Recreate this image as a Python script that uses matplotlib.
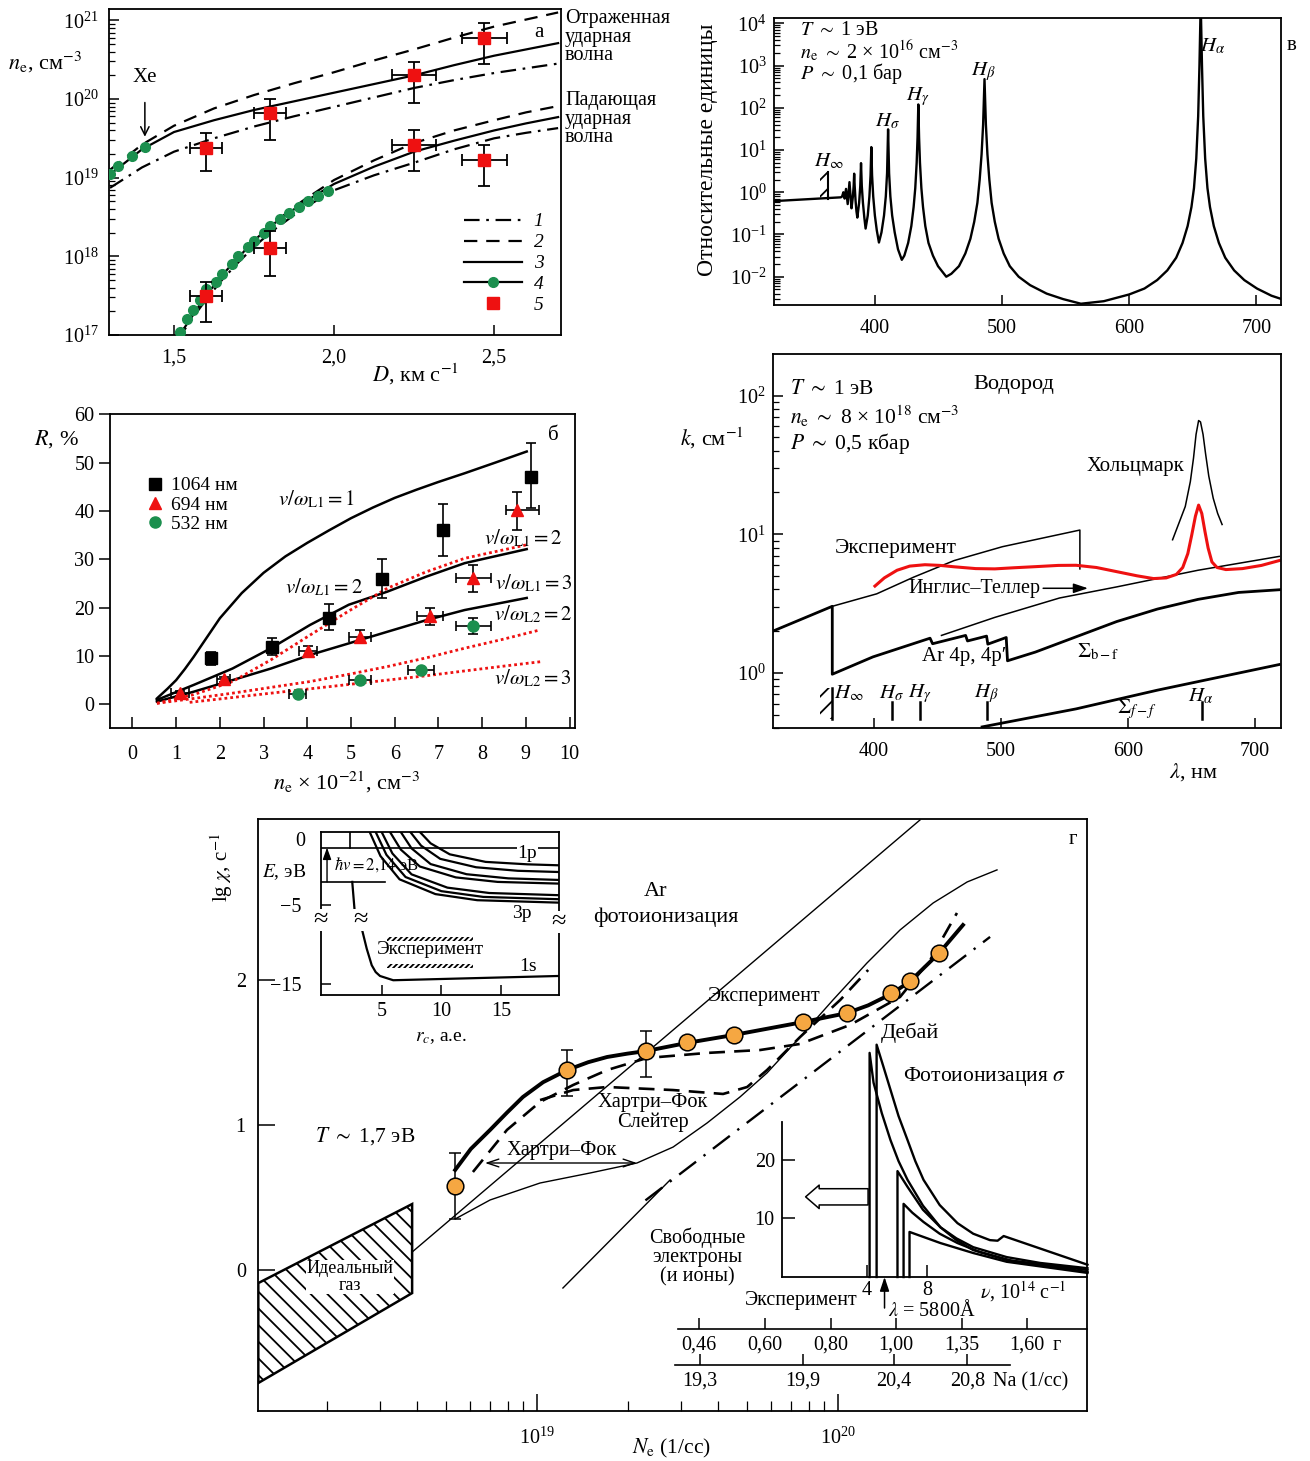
import numpy as np
import matplotlib
matplotlib.use('Agg')
import matplotlib.pyplot as plt
from matplotlib.lines import Line2D
from matplotlib.patches import Polygon, Rectangle
import matplotlib.ticker as mt

W, H = 1310, 1461
plt.rcParams.update({
    'font.family': ['Liberation Serif', 'DejaVu Serif'],
    'mathtext.fontset': 'stix',
    'font.size': 14,
    'axes.linewidth': 1.3,
    'xtick.direction': 'in', 'ytick.direction': 'in',
    'xtick.major.size': 7, 'ytick.major.size': 7,
    'xtick.minor.size': 4, 'ytick.minor.size': 4,
    'xtick.major.width': 1.1, 'ytick.major.width': 1.1,
    'xtick.minor.width': 0.9, 'ytick.minor.width': 0.9,
    'xtick.labelsize': 14.5, 'ytick.labelsize': 14.5,
    'xtick.major.pad': 10, 'ytick.major.pad': 7,
    'hatch.linewidth': 1.3,
})
GREEN = '#1b8f4e'
RED = '#ee1111'
ORANGE = '#f5a742'

# ------------------------------------------------------------------ data
# panel a : n_e (log10) vs D
a_D_refl = [1.30, 1.40, 1.50, 1.625, 1.75, 1.875, 2.00, 2.125, 2.25, 2.375, 2.50, 2.60, 2.70]
a_refl_1 = [18.87, 19.13, 19.33, 19.50, 19.65, 19.78, 19.90, 20.02, 20.14, 20.24, 20.33, 20.39, 20.45]
a_refl_2 = [19.10, 19.42, 19.66, 19.88, 20.05, 20.20, 20.34, 20.49, 20.63, 20.78, 20.92, 21.01, 21.10]
a_refl_3 = [19.04, 19.36, 19.58, 19.73, 19.86, 19.97, 20.08, 20.19, 20.30, 20.43, 20.55, 20.63, 20.71]
a_D_inc = [1.51, 1.55, 1.60, 1.65, 1.70, 1.75, 1.80, 1.90, 2.00, 2.125, 2.25, 2.375, 2.50, 2.60, 2.70]
a_inc_1 = [16.93, 17.17, 17.45, 17.70, 17.92, 18.12, 18.30, 18.60, 18.84, 19.03, 19.19, 19.36, 19.50, 19.57, 19.63]
a_inc_2 = [16.95, 17.20, 17.50, 17.76, 17.98, 18.20, 18.39, 18.70, 18.97, 19.22, 19.44, 19.60, 19.73, 19.83, 19.91]
a_inc_3 = [16.95, 17.20, 17.50, 17.76, 17.98, 18.20, 18.38, 18.67, 18.92, 19.14, 19.33, 19.47, 19.60, 19.69, 19.77]
a_dots_up_D = [1.30, 1.325, 1.369, 1.41]
a_dots_up_ne = [19.05, 19.15, 19.28, 19.39]
a_dots_lo_D = [1.52, 1.54, 1.56, 1.58, 1.60, 1.63, 1.65, 1.68, 1.70, 1.73, 1.75, 1.78, 1.80, 1.83,
               1.86, 1.89, 1.92, 1.95, 1.98]
a_dots_lo_ne = [17.04, 17.20, 17.32, 17.45, 17.58, 17.68, 17.78, 17.90, 18.00, 18.12, 18.20, 18.30,
                18.38, 18.47, 18.55, 18.63, 18.70, 18.77, 18.83]
a_sq_D = [1.60, 1.80, 2.25, 2.47, 2.25, 2.47, 1.80, 1.60]
a_sq_ne = [19.38, 19.82, 20.30, 20.78, 19.42, 19.23, 18.11, 17.50]
a_sq_lo = [19.08, 19.48, 19.95, 20.44, 19.08, 18.89, 17.75, 17.16]
a_sq_hi = [19.57, 20.00, 20.47, 20.97, 19.60, 19.42, 18.32, 17.68]
a_sq_dx = [0.05, 0.05, 0.07, 0.07, 0.07, 0.07, 0.05, 0.05]

# panel b : R (%) vs n_e
b_n = [0.56, 0.80, 1.00, 1.20, 1.40, 1.70, 2.00, 2.50, 3.00, 3.50, 4.00, 4.50, 5.00, 5.50, 6.00,
       6.50, 7.00, 7.60, 8.30, 9.02]
b_c1 = [1.2, 3.2, 5.0, 7.3, 9.8, 13.8, 17.8, 23.0, 27.2, 30.6, 33.4, 36.0, 38.5, 40.7, 42.7,
        44.4, 46.0, 47.8, 50.0, 52.3]
b_n2 = [0.56, 1.40, 2.29, 3.17, 4.06, 4.95, 5.83, 6.72, 7.60, 9.02]
b_c2 = [0.9, 4.0, 7.4, 11.6, 16.4, 20.6, 23.3, 26.4, 29.2, 32.1]
b_c3 = [0.55, 2.6, 5.0, 7.4, 10.2, 12.6, 15.0, 17.4, 19.5, 22.0]
b_d1_n = [0.56, 1.40, 2.29, 3.17, 4.06, 4.95, 5.83, 6.72, 7.60, 9.02]
b_d1 = [0.2, 2.0, 4.7, 9.2, 14.3, 19.3, 24.0, 27.4, 30.2, 33.0]
b_d2_n = [0.56, 1.40, 2.29, 3.17, 4.06, 4.95, 5.83, 6.72, 7.60, 8.50, 9.33]
b_d2 = [0.2, 1.2, 2.3, 3.5, 4.7, 6.2, 7.8, 9.6, 11.6, 13.5, 15.4]
b_d3_n = [1.31, 2.29, 3.17, 4.06, 4.95, 5.83, 6.72, 7.60, 8.50, 9.33]
b_d3 = [0.4, 1.4, 2.3, 3.2, 4.1, 5.0, 5.9, 6.9, 7.9, 8.8]
b_sq_n = [1.80, 3.20, 4.50, 5.70, 7.10, 9.11]
b_sq_R = [9.5, 11.9, 17.9, 26.0, 36.0, 47.0]
b_sq_lo = [1.4, 1.7, 2.5, 4.1, 5.3, 6.4]
b_sq_hi = [1.4, 1.9, 2.8, 4.0, 5.4, 7.0]
b_tr_n = [1.09, 2.09, 4.02, 5.21, 6.81, 7.80, 8.80]
b_tr_R = [2.3, 5.2, 11.0, 14.0, 18.3, 26.2, 40.2]
b_tr_lo = [0.5, 0.5, 1.0, 1.0, 1.9, 2.9, 4.2]
b_tr_hi = [0.5, 0.5, 1.1, 1.4, 1.7, 2.6, 3.8]
b_tr_dxl = [0.2, 0.15, 0.2, 0.25, 0.3, 0.4, 0.25]
b_tr_dxr = [0.2, 0.15, 0.2, 0.25, 0.3, 0.4, 0.5]
b_ci_n = [3.78, 5.21, 6.61, 7.80]
b_ci_R = [2.1, 5.0, 7.1, 16.2]
b_ci_dx = [0.2, 0.25, 0.3, 0.4]
b_ci_dy = [0.0, 0.0, 0.0, 1.7]

# panel v : Balmer spectrum, log10 of relative intensity
v_nm = [320, 373, 374.0, 375.0, 376.0, 377.1, 378.4, 379.8, 381.4, 382.5, 383.1, 383.5, 383.9,
        384.6, 385.3, 386.0, 387.4, 388.3, 388.9, 389.5, 390.4, 391.5, 392.5, 394.2, 395.5, 396.4,
        397.0, 397.6, 398.5, 399.8, 401.3, 403.0, 405.0, 407.0, 408.4, 409.4, 410.2, 411.0, 412.0,
        413.4, 415.4, 418.0, 421.0, 423.0, 426.0, 428.5, 430.3, 431.6, 432.7, 433.4, 434.0, 434.6,
        435.3, 436.4, 437.7, 439.5, 442.0, 445.5, 449.5, 456.0, 460.0, 466.0, 471.0, 475.0, 478.0,
        480.5, 482.3, 483.8, 485.0, 486.1, 487.2, 488.4, 489.9, 491.7, 494.2, 497.2, 501.2, 506.0,
        513.0, 522.0, 535.0, 548.0, 562.0, 580.0, 600.0, 612.0, 622.0, 630.0, 637.0, 642.0, 646.0,
        649.0, 651.0, 652.8, 654.3, 655.3, 656.3, 657.3, 658.3, 659.8, 661.6, 663.6, 666.6, 670.6,
        675.6, 682.6, 690.6, 700.6, 712.0, 719.0]
v_log = [-0.21, -0.12, -0.10, 0.00, -0.15, 0.08, -0.28, 0.24, -0.38, -0.10, 0.15, 0.44, 0.15,
         -0.20, -0.45, -0.60, -0.25, 0.15, 0.69, 0.15, -0.25, -0.60, -0.86, -0.55, -0.10, 0.40,
         1.07, 0.40, -0.10, -0.55, -0.90, -1.19, -0.95, -0.55, -0.10, 0.45, 1.49, 0.45, -0.10,
         -0.55, -0.95, -1.35, -1.60, -1.50, -1.20, -0.80, -0.35, 0.10, 0.70, 1.30, 2.08, 1.30,
         0.70, 0.10, -0.35, -0.80, -1.20, -1.50, -1.75, -2.00, -1.93, -1.75, -1.45, -1.10, -0.70,
         -0.25, 0.30, 0.90, 1.60, 2.68, 1.60, 0.90, 0.30, -0.25, -0.70, -1.10, -1.45, -1.75,
         -2.00, -2.20, -2.40, -2.53, -2.64, -2.58, -2.42, -2.28, -2.08, -1.85, -1.55, -1.20, -0.80,
         -0.35, 0.10, 0.80, 1.80, 3.00, 4.50, 3.00, 1.80, 0.80, 0.10, -0.35, -0.80, -1.20,
         -1.55, -1.85, -2.08, -2.28, -2.45, -2.52]

# panel k : absorption coefficient, log10 k
k_env_nm = [320, 367, 367, 399, 444, 446, 472, 473.5, 488.5, 489.5, 504, 505, 527, 559, 591, 623, 655, 687, 720]
k_env = [0.30, 0.48, -0.01, 0.115, 0.25, 0.21, 0.27, 0.23, 0.265, 0.207, 0.255, 0.087, 0.15, 0.26, 0.37, 0.46, 0.53, 0.58, 0.60]
k_sum_nm = [367, 402, 431, 463, 501, 562, 562]
k_sum = [0.48, 0.57, 0.69, 0.81, 0.91, 1.03, 0.75]
k_it_nm = [453, 495, 546, 591, 655, 719]
k_it = [0.27, 0.40, 0.54, 0.62, 0.74, 0.84]
k_ff_nm = [485, 559, 623, 719]
k_ff = [-0.39, -0.26, -0.125, 0.06]
k_exp_nm = [400.6, 408, 418, 428, 440, 452, 463, 480, 495, 510, 527, 545, 559, 575, 591, 607, 620,
            630, 638, 643, 647, 650, 653, 655.5, 658, 660.5, 663, 666, 670, 677, 690, 705, 719]
k_exp = [0.626, 0.685, 0.74, 0.77, 0.78, 0.775, 0.765, 0.752, 0.750, 0.758, 0.766, 0.775, 0.776,
         0.760, 0.73, 0.70, 0.68, 0.685, 0.71, 0.76, 0.86, 0.99, 1.13, 1.21, 1.15, 1.02, 0.90, 0.80,
         0.76, 0.745, 0.752, 0.775, 0.81]
k_hz_nm = [635, 640, 645, 649, 651.5, 653.5, 655.5, 657, 659, 661, 663.5, 667, 670.5, 674]
k_hz = [0.96, 1.08, 1.20, 1.38, 1.55, 1.72, 1.82, 1.81, 1.72, 1.58, 1.42, 1.26, 1.15, 1.07]
k_lines_nm = [413.7, 436.4, 488.5, 657.8]

# panel g : lg chi vs log10 Ne
g_exp_X = [18.728, 19.100, 19.362, 19.498, 19.654, 19.884, 20.030, 20.176, 20.239, 20.336]
g_exp_Y = [0.579, 1.379, 1.510, 1.572, 1.621, 1.710, 1.772, 1.910, 1.993, 2.186]
g_err_lo = [0.352, 1.200, 1.331]
g_err_hi = [0.807, 1.517, 1.648]
g_thick_X = [18.728, 18.78, 18.844, 18.90, 18.953, 19.02, 19.100, 19.17, 19.233, 19.30, 19.362,
             19.498, 19.654, 19.884, 20.030, 20.10, 20.176, 20.239, 20.336, 20.415]
g_thick_Y = [0.690, 0.835, 0.966, 1.085, 1.193, 1.295, 1.379, 1.433, 1.469, 1.492, 1.510,
             1.566, 1.621, 1.710, 1.772, 1.825, 1.903, 1.990, 2.186, 2.379]
g_hfs_X = [18.787, 18.900, 19.010, 19.120, 19.233, 19.365, 19.565, 19.741, 19.874, 20.040, 20.206, 20.306, 20.395]
g_hfs_Y = [0.676, 0.966, 1.159, 1.276, 1.379, 1.462, 1.497, 1.517, 1.559, 1.690, 1.883, 2.138, 2.462]
g_sl_X = [19.010, 19.120, 19.233, 19.452, 19.618, 19.698, 19.764, 19.874, 20.007, 20.100]
g_sl_Y = [1.172, 1.241, 1.262, 1.241, 1.214, 1.262, 1.379, 1.607, 1.862, 2.069]
g_hf_X = [18.728, 18.844, 19.010, 19.176, 19.332, 19.452, 19.565, 19.674, 19.764, 19.874, 19.983, 20.096, 20.206, 20.316, 20.429, 20.528]
g_hf_Y = [0.352, 0.483, 0.600, 0.669, 0.738, 0.848, 1.014, 1.193, 1.359, 1.607, 1.862, 2.117, 2.345, 2.531, 2.676, 2.759]
g_ideal_X = [18.585, 20.272]
g_ideal_Y = [0.124, 3.103]
g_free_X = [19.086, 19.442]
g_free_Y = [-0.124, 0.621]
g_deb_X = [19.36, 20.505]
g_deb_Y = [0.48, 2.297]
g_gas_X = [18.074, 18.585, 18.585, 18.074]
g_gas_Y = [-0.090, 0.455, -0.159, -0.779]
g_scale_g_X = [19.538, 19.757, 19.977, 20.193, 20.412, 20.628]
g_scale_g_lab = ['0,46', '0,60', '0,80', '1,00', '1,35', '1,60']
g_scale_na_X = [19.542, 19.884, 20.186, 20.429]
g_scale_na_lab = ['19,3', '19,9', '20,4', '20,8']

# inset: photoionization cross-section
sA_nu = [4.2, 4.2, 4.46, 5.0, 5.57, 6.1, 6.69, 7.7, 8.85, 9.9, 11.0, 13.2, 15.4, 18.5]
sA = [0, 38.3, 33.2, 28.0, 23.4, 19.8, 16.6, 12.2, 8.5, 6.6, 5.1, 3.4, 2.4, 1.5]
sB_nu = [4.66, 4.66, 5.1, 5.57, 6.1, 6.69, 7.2, 7.74, 8.8, 9.97, 11.0, 12.1, 12.6, 13.0, 18.5]
sB = [0, 39.7, 36.0, 32.0, 27.5, 23.4, 19.8, 16.6, 12.3, 9.2, 7.4, 6.3, 6.2, 7.0, 2.1]
sC_nu = [6.03, 6.03, 6.69, 7.7, 8.85, 9.9, 11.0, 13.5, 18.5]
sC = [0, 18.1, 15.4, 11.5, 8.5, 6.3, 4.6, 2.8, 1.2]
sD_nu = [6.43, 6.43, 7.0, 7.74, 8.8, 9.97, 11.5, 13.2, 18.5]
sD = [0, 12.5, 11.0, 9.4, 7.4, 5.8, 4.2, 2.9, 0.85]
sE_nu = [6.82, 6.82, 8.85, 11.0, 13.2, 18.5]
sE = [0, 7.7, 5.8, 4.1, 2.6, 0.7]

# inset: energy levels vs r_c
e_1s_a_r = [2.54, 2.77]
e_1s_a_E = [-3.11, -5.84]
e_1s_b_r = [3.27, 3.75, 4.17, 4.50, 4.86, 5.97, 19.84]
e_1s_b_E = [-6.67, -8.58, -9.94, -10.50, -10.82, -11.17, -10.82]
e_lv_r = [[8.2, 9.1, 10.7, 13.7, 17.2, 19.84],
          [7.4, 8.3, 9.9, 12.9, 16.4, 19.84],
          [6.6, 7.5, 9.1, 12.1, 15.6, 19.84],
          [5.7, 6.6, 8.2, 11.2, 14.7, 19.84],
          [5.0, 5.9, 7.5, 10.5, 14.0, 19.84],
          [4.5, 5.4, 7.0, 10.0, 13.5, 19.84],
          [4.0, 4.9, 6.5, 9.5, 13.0, 19.84]]
e_lv_E = [[0.98, 0.05, -0.85, -1.47, -1.67, -1.75],
          [0.98, -0.14, -1.22, -1.91, -2.20, -2.30],
          [0.98, -0.36, -1.65, -2.48, -2.82, -2.95],
          [0.98, -0.46, -1.85, -2.74, -3.11, -3.25],
          [0.98, -0.78, -2.49, -3.58, -4.02, -4.20],
          [0.98, -0.89, -2.71, -3.87, -4.34, -4.53],
          [0.98, -0.99, -2.90, -4.11, -4.61, -4.81]]


def pw(v):
    return 10.0 ** np.asarray(v, dtype=float)


fig = plt.figure(figsize=(W / 100, H / 100), dpi=100)


def px_axes(l, t, r, b, **kw):
    return fig.add_axes([l / W, 1 - b / H, (r - l) / W, (b - t) / H], **kw)


def ftext(x, y, s, **kw):
    kw.setdefault('ha', 'center')
    kw.setdefault('va', 'center')
    return fig.text(x / W, 1 - y / H, s, **kw)


def log_y(ax):
    ax.yaxis.set_major_locator(mt.LogLocator(base=10, numticks=20))
    ax.yaxis.set_minor_locator(mt.LogLocator(base=10, subs=np.arange(2, 10), numticks=20))
    ax.yaxis.set_major_formatter(mt.LogFormatterMathtext())
    ax.yaxis.set_minor_formatter(mt.NullFormatter())


DDa = (7, 3, 1.2, 3)
DAa = (6, 4)
LAB = 16

# ================================================================ panel a
axA = px_axes(108.7, 9.3, 561, 335)
axA.set_yscale('log')
axA.set_xlim(1.296, 2.709)
axA.set_ylim(1e17, 10 ** 21.14)
lk = dict(color='k', lw=1.6)
axA.plot(a_D_refl, pw(a_refl_1), dashes=DDa, **lk)
axA.plot(a_D_refl, pw(a_refl_2), dashes=DAa, **lk)
axA.plot(a_D_refl, pw(a_refl_3), **lk)
axA.plot(a_D_inc, pw(a_inc_1), dashes=DDa, **lk)
axA.plot(a_D_inc, pw(a_inc_2), dashes=DAa, **lk)
axA.plot(a_D_inc, pw(a_inc_3), **lk)
axA.plot(a_dots_up_D, pw(a_dots_up_ne), 'o', color=GREEN, ms=7, zorder=4)
axA.plot(a_dots_lo_D, pw(a_dots_lo_ne), 'o', color=GREEN, ms=7, zorder=4)
ya = pw(a_sq_ne)
axA.errorbar(a_sq_D, ya, yerr=[ya - pw(a_sq_lo), pw(a_sq_hi) - ya], xerr=a_sq_dx, fmt='none',
             ecolor='k', elinewidth=1.3, capsize=4, capthick=1.3, zorder=5)
axA.plot(a_sq_D, ya, 's', color=RED, ms=8.5, zorder=6)
log_y(axA)
axA.set_xticks([1.5, 2.0, 2.5])
axA.set_xticklabels(['1,5', '2,0', '2,5'])
axA.tick_params(which='both', top=False, right=False)
hA = [Line2D([], [], dashes=DDa, **lk), Line2D([], [], dashes=DAa, **lk), Line2D([], [], **lk),
      Line2D([], [], marker='o', mfc=GREEN, mec=GREEN, ms=7, **lk),
      Line2D([], [], ls='none', marker='s', color=RED, ms=8.5)]
axA.legend(hA, ['1', '2', '3', '4', '5'], loc='upper left', bbox_to_anchor=(0.785, 0.375),
           frameon=False, handlelength=3.0, handletextpad=0.6, labelspacing=0.17,
           borderpad=0, borderaxespad=0, prop={'style': 'italic', 'size': 14}, numpoints=1)
axA.annotate('Xe', xy=(1.409, 10 ** 19.52), xytext=(1.409, 10 ** 20.27), ha='center', va='center',
             fontsize=15, arrowprops=dict(arrowstyle='->', lw=1.1, color='k', shrinkA=9, shrinkB=0))
axA.text(2.64, 10 ** 20.84, 'а', fontsize=15, ha='center', va='center')
axA.text(1.009, 1.0, 'Отраженная\nударная\nволна', transform=axA.transAxes, ha='left', va='top',
         fontsize=14.5, linespacing=0.96)
axA.text(1.009, 0.748, 'Падающая\nударная\nволна', transform=axA.transAxes, ha='left', va='top',
         fontsize=14.5, linespacing=0.96)
ftext(8, 62, r'$n_{\rm e}$, см$^{-3}$', ha='left', fontsize=LAB)
ftext(415, 374, r'$D$, км с$^{-1}$', fontsize=LAB)

# ================================================================ panel b
axB = px_axes(109.7, 414, 574.8, 728.3)
axB.set_xlim(-0.52, 10.12)
axB.set_ylim(-4.97, 60.06)
lb = dict(color='k', lw=1.8)
axB.plot(b_n, b_c1, **lb)
axB.plot(b_n2, b_c2, **lb)
axB.plot(b_n2, b_c3, **lb)
ld = dict(color=RED, lw=2.0, ls=(0, (1, 1.1)))
axB.plot(b_d1_n, b_d1, **ld)
axB.plot(b_d2_n, b_d2, **ld)
axB.plot(b_d3_n, b_d3, **ld)
ek = dict(fmt='none', ecolor='k', elinewidth=1.2, capsize=3.5, capthick=1.2, zorder=4)
axB.errorbar(b_sq_n, b_sq_R, yerr=[b_sq_lo, b_sq_hi], **ek)
axB.errorbar(b_tr_n, b_tr_R, yerr=[b_tr_lo, b_tr_hi], xerr=[b_tr_dxl, b_tr_dxr], **ek)
axB.errorbar(b_ci_n, b_ci_R, yerr=b_ci_dy, xerr=b_ci_dx, **ek)
axB.plot(b_sq_n, b_sq_R, 's', color='k', ms=8.5, zorder=5)
axB.plot(b_tr_n, b_tr_R, '^', color=RED, ms=8.5, zorder=5)
axB.plot(b_ci_n, b_ci_R, 'o', color=GREEN, ms=8, zorder=5)
axB.set_xticks(range(0, 11))
axB.set_yticks(range(0, 61, 10))
axB.tick_params(axis='y', direction='out', length=8, pad=3)
axB.tick_params(axis='x', direction='in', length=8, pad=12)
axB.tick_params(top=False, right=False)
hB = [Line2D([], [], ls='none', marker='s', color='k', ms=8.5),
      Line2D([], [], ls='none', marker='^', color=RED, ms=8.5),
      Line2D([], [], ls='none', marker='o', color=GREEN, ms=8)]
axB.legend(hB, ['1064 нм', '694 нм', '532 нм'], loc='upper left', bbox_to_anchor=(0.076, 0.80),
           frameon=False, handlelength=1.0, handletextpad=0.35, labelspacing=0.08,
           borderpad=0, borderaxespad=0, fontsize=14)
tb = dict(fontsize=15, ha='center', va='center')
axB.text(4.22, 42.3, r'$v/\omega_{\rm L1} = 1$', **tb)
axB.text(4.38, 24.1, r'$v/\omega_{L1} = 2$', **tb)
axB.text(8.95, 34.4, r'$v/\omega_{\rm L1} = 2$', **tb)
axB.text(9.18, 24.9, r'$v/\omega_{\rm L1} = 3$', **tb)
axB.text(9.18, 18.5, r'$v/\omega_{\rm L2} = 2$', **tb)
axB.text(9.16, 5.4, r'$v/\omega_{\rm L2} = 3$', **tb)
axB.text(9.62, 55.7, 'б', fontsize=15, ha='center', va='center')
ftext(34, 439, r'$R$, %', ha='left', fontsize=LAB)
ftext(347, 782, r'$n_{\rm e}$ × 10$^{-21}$, см$^{-3}$', fontsize=LAB)

# ================================================================ panel v
axV = px_axes(773.5, 18.3, 1281, 305)
axV.set_yscale('log')
axV.set_xlim(320, 719.5)
axV.set_ylim(10 ** -2.67, 10 ** 4.12)
axV.plot(v_nm, pw(v_log), color='k', lw=1.7)
axV.plot([363, 363], pw([-0.16, 0.48]), color='k', lw=1.5)
axV.add_patch(Rectangle((356.5, 10 ** -0.16), 6.5, 10 ** 0.48 - 10 ** -0.16, hatch='//',
                        fill=False, lw=0))
log_y(axV)
axV.set_xticks([400, 500, 600, 700])
axV.tick_params(which='both', top=False, right=False)
axV.tick_params(axis='y', pad=5)
tv = dict(fontsize=15, ha='center', va='center')
axV.text(363.4, 10 ** 0.72, r'$H_\infty$', **tv)
axV.text(409.6, 10 ** 1.67, r'$H_\sigma$', **tv)
axV.text(433.3, 10 ** 2.26, r'$H_\gamma$', **tv)
axV.text(485.6, 10 ** 2.85, r'$H_\beta$', **tv)
axV.text(666.0, 10 ** 3.45, r'$H_\alpha$', **tv)
axV.text(0.053, 0.958, r'$T$ $\sim$ 1 эВ', transform=axV.transAxes, fontsize=14.5, va='center')
axV.text(0.053, 0.886, r'$n_{\rm e}$ $\sim$ 2 × 10$^{16}$ см$^{-3}$', transform=axV.transAxes,
         fontsize=14.5, va='center')
axV.text(0.053, 0.806, r'$P$ $\sim$ 0,1 бар', transform=axV.transAxes, fontsize=14.5, va='center')
ftext(1292, 45, 'в', fontsize=15)
ftext(707, 150, 'Относительные единицы', rotation=90, fontsize=17)

# ================================================================ panel k
axK = px_axes(772.6, 354, 1280.5, 728.3)
axK.set_yscale('log')
axK.set_xlim(320, 720)
axK.set_ylim(10 ** -0.40, 10 ** 2.30)
axK.plot(k_env_nm, pw(k_env), color='k', lw=2.0)
axK.plot(k_sum_nm, pw(k_sum), color='k', lw=1.1)
axK.plot(k_it_nm, pw(k_it), color='k', lw=1.1)
axK.plot(k_ff_nm, pw(k_ff), color='k', lw=2.0)
axK.plot(k_hz_nm, pw(k_hz), color='k', lw=1.1)
axK.plot(k_exp_nm, pw(k_exp), color=RED, lw=2.2)
for xl in k_lines_nm:
    axK.plot([xl, xl], pw([-0.21, -0.33]), color='k', lw=1.8)
axK.plot([367, 367], pw([-0.11, -0.33]), color='k', lw=1.8)
axK.add_patch(Rectangle((357.5, 10 ** -0.33), 9.5, 10 ** -0.11 - 10 ** -0.33, hatch='//',
                        fill=False, lw=0))
log_y(axK)
axK.set_xticks([400, 500, 600, 700])
axK.tick_params(which='both', top=False, right=False)
axK.tick_params(axis='y', pad=5)
tk = dict(fontsize=15, ha='center', va='center')
axK.text(380, 10 ** -0.15, r'$H_\infty$', **tk)
axK.text(413.4, 10 ** -0.15, r'$H_\sigma$', **tk)
axK.text(435.8, 10 ** -0.15, r'$H_\gamma$', **tk)
axK.text(488.5, 10 ** -0.15, r'$H_\beta$', **tk)
axK.text(657.2, 10 ** -0.17, r'$H_\alpha$', **tk)
axK.text(576.4, 10 ** 0.15, r'$\Sigma_{\rm b-f}$', **tk)
axK.text(606.7, 10 ** -0.26, r'$\Sigma_{f-f}$', **tk)
axK.text(470.9, 10 ** 0.12, 'Ar 4p, 4p′', **tk)
axK.text(416.6, 10 ** 0.90, 'Эксперимент', fontsize=15.5, ha='center', va='center')
axK.text(510.2, 10 ** 2.08, 'Водород', fontsize=16, ha='center', va='center')
axK.text(606.0, 10 ** 1.49, 'Хольцмарк', fontsize=15, ha='center', va='center')
axK.annotate('Инглис–Теллер', xy=(568.4, 10 ** 0.61), xytext=(478.9, 10 ** 0.61), ha='center',
             va='center', fontsize=14.5,
             arrowprops=dict(arrowstyle='-|>,head_length=0.6,head_width=0.2', lw=1.1, color='k',
                             shrinkA=0, shrinkB=0))
axK.text(0.034, 0.905, r'$T$ $\sim$ 1 эВ', transform=axK.transAxes, fontsize=15.5, va='center')
axK.text(0.034, 0.835, r'$n_{\rm e}$ $\sim$ 8 × 10$^{18}$ см$^{-3}$', transform=axK.transAxes,
         fontsize=15.5, va='center')
axK.text(0.034, 0.762, r'$P$ $\sim$ 0,5 кбар', transform=axK.transAxes, fontsize=15.5, va='center')
ftext(680, 438, r'$k$, см$^{-1}$', ha='left', fontsize=LAB)
ftext(1193, 772, r'$\lambda$, нм', fontsize=LAB)

# ================================================================ panel g
axG = px_axes(258.3, 819, 1087.3, 1410.7)
axG.set_xscale('log')
XL = (10 ** 18.074, 10 ** 20.828)
axG.set_xlim(*XL)
axG.set_ylim(-0.970, 3.11)
axG.add_patch(Polygon(list(zip(pw(g_gas_X), g_gas_Y)), closed=True, fill=False, hatch='\\\\',
                      ec='k', lw=1.8))
axG.plot(pw(g_ideal_X), g_ideal_Y, color='k', lw=1.0)
axG.plot(pw(g_hf_X), g_hf_Y, color='k', lw=1.0)
axG.plot(pw(g_free_X), g_free_Y, color='k', lw=1.0)
axG.plot(pw(g_deb_X), g_deb_Y, color='k', lw=1.7, dashes=(9, 4, 1, 4))
axG.plot(pw(g_sl_X), g_sl_Y, color='k', lw=1.9, dashes=(6, 3.5))
axG.plot(pw(g_hfs_X), g_hfs_Y, color='k', lw=1.9, dashes=(6, 3.5))
axG.plot(pw(g_thick_X), g_thick_Y, color='k', lw=2.8)
ge = np.array(g_exp_Y[:3])
axG.errorbar(pw(g_exp_X[:3]), ge, yerr=[ge - np.array(g_err_lo), np.array(g_err_hi) - ge], fmt='none',
             ecolor='k', elinewidth=1.1, capsize=4.5, capthick=1.1, zorder=4)
axG.plot(pw(g_exp_X), g_exp_Y, 'o', mfc=ORANGE, mec='k', mew=1.1, ms=12, zorder=6)
axG.annotate('', xy=(10 ** 18.827, 0.738), xytext=(10 ** 19.332, 0.738),
             arrowprops=dict(arrowstyle='<->,head_length=0.6,head_width=0.2', lw=1.0, color='k',
                             shrinkA=0, shrinkB=0))
axG.xaxis.set_major_locator(mt.FixedLocator([1e19, 1e20]))
axG.xaxis.set_major_formatter(mt.LogFormatterMathtext())
axG.xaxis.set_minor_locator(mt.FixedLocator([m * 10.0 ** e for e in (18, 19) for m in range(2, 10)]))
axG.xaxis.set_minor_formatter(mt.NullFormatter())
axG.set_yticks([0, 1, 2])
axG.tick_params(which='both', top=False, right=False)
axG.tick_params(axis='x', which='major', length=12, pad=12)
axG.tick_params(axis='x', which='minor', length=7)
axG.tick_params(axis='y', length=12, pad=9)

ftext(656, 891, 'Ar', fontsize=16)
ftext(666, 917, 'фотоионизация', fontsize=16)
ftext(764, 997, 'Эксперимент', fontsize=14.3)
ftext(910, 1033, 'Дебай', fontsize=16)
ftext(984, 1077, r'Фотоионизация $\sigma$', fontsize=15.5)
ftext(653, 1103, 'Хартри–Фок', fontsize=14.7)
ftext(653, 1122, 'Слейтер', fontsize=14.7)
ftext(562, 1150, 'Хартри–Фок', fontsize=14.7)
ftext(365, 1136, r'$T$ $\sim$ 1,7 эВ', fontsize=15.5)
ftext(697, 1257, 'Свободные\nэлектроны\n(и ионы)', fontsize=14.5, linespacing=0.98)
ftext(350, 1277, 'Идеальный\nгаз', fontsize=13, linespacing=0.95,
      bbox=dict(fc='white', ec='none', pad=0.5))
ftext(1073, 840, 'г', fontsize=15)
ftext(801, 1301, 'Эксперимент', fontsize=14.3)
ftext(222, 868, r'lg $\chi$, с$^{-1}$', rotation=90, fontsize=15)
ftext(672, 1448, r'$N_{\rm e}$ (1/cc)', fontsize=15.5)

# ---- density scales under the curves
def scale_axis(ypix, x0pix, x1pix, ticks, labels, unit, unit_x):
    ax = px_axes(258.3, ypix, 1087.3, ypix + 0.01)
    ax.patch.set_visible(False)
    ax.set_xscale('log')
    ax.set_xlim(*XL)
    ax.set_yticks([])
    for s in ('top', 'left', 'right'):
        ax.spines[s].set_visible(False)
    conv = lambda p: 10 ** (19 + (p - 537) / 301)
    ax.spines['bottom'].set_bounds(conv(x0pix), conv(x1pix))
    ax.spines['bottom'].set_linewidth(1.2)
    ax.xaxis.set_major_locator(mt.FixedLocator(list(pw(ticks))))
    ax.xaxis.set_major_formatter(mt.FixedFormatter(labels))
    ax.xaxis.set_minor_locator(mt.NullLocator())
    ax.tick_params(axis='x', direction='in', length=8, pad=5, labelsize=14.5)
    ftext(unit_x, ypix + 17, unit, fontsize=14.5)
    return ax

scale_axis(1329, 678, 1087.3, g_scale_g_X, g_scale_g_lab, 'г', 1057)
scale_axis(1365, 675, 1010, g_scale_na_X, g_scale_na_lab, 'Na (1/cc)', 1031)

# ---- photoionization inset
axS = px_axes(781.7, 1040, 1087.3, 1277)
axS.patch.set_visible(False)
axS.set_xlim(-1.57, 18.49)
axS.set_ylim(0, 40.5)
for s in ('top', 'right'):
    axS.spines[s].set_visible(False)
axS.spines['left'].set_bounds(0, 26.5)
for nu, sg in ((sA_nu, sA), (sB_nu, sB), (sC_nu, sC), (sD_nu, sD), (sE_nu, sE)):
    axS.plot(nu, sg, color='k', lw=1.7, clip_on=False)
axS.set_xticks([4, 8])
axS.set_yticks([10, 20])
axS.tick_params(direction='in', length=9, labelsize=14.5)
axS.tick_params(axis='x', pad=3)
axS.tick_params(axis='y', pad=5)
axS.annotate('', xy=(0.0, 13.7), xytext=(4.1, 13.7),
             arrowprops=dict(arrowstyle='simple,head_length=0.75,head_width=1.3,tail_width=0.9',
                             mutation_scale=13, fc='white', ec='k', lw=1.1, shrinkA=0, shrinkB=0))
axS.annotate('', xy=(5.18, 0.0), xytext=(5.18, -5.3), annotation_clip=False,
             arrowprops=dict(arrowstyle='-|>,head_length=0.6,head_width=0.2', lw=1.1, color='k',
                             shrinkA=0, shrinkB=0))
ftext(932, 1311, r'$\lambda$ = 5800Å', fontsize=14.5)
ftext(1023, 1292, r'$\nu$, 10$^{14}$ с$^{-1}$', fontsize=14.5)

# ---- energy-level inset
axI = px_axes(320.7, 832, 559, 995)
axI.set_facecolor('white')
axI.set_xlim(-0.10, 19.84)
axI.set_ylim(-12.38, 0.98)
ei = dict(color='k', lw=1.6)
axI.plot([-0.10, 19.84], [-0.30, -0.30], color='k', lw=1.2)
axI.plot([-0.10, 5.28], [-3.11, -3.11], color='k', lw=1.2)
axI.plot([2.35, 2.35], [0.98, -0.30], color='k', lw=1.2)
axI.plot(e_1s_a_r, e_1s_a_E, **ei)
axI.plot(e_1s_b_r, e_1s_b_E, **ei)
for rr, ee in zip(e_lv_r, e_lv_E):
    axI.plot(rr, ee, **ei)
axI.annotate('', xy=(0.43, -0.30), xytext=(0.43, -3.11),
             arrowprops=dict(arrowstyle='-|>,head_length=0.5,head_width=0.18', lw=1.0, color='k',
                             shrinkA=0, shrinkB=0))
for yb in (-7.76, -10.0):
    axI.add_patch(Rectangle((5.42, yb - 0.17), 7.25, 0.34, hatch='//////', fill=False, lw=0))
axI.text(1.0, -1.72, r'$\hbar v = 2{,}14$ эВ', fontsize=12, va='center', ha='left')
axI.text(9.05, -8.69, 'Эксперимент', fontsize=13.8, ha='center', va='center')
axI.text(17.2, -0.78, '1p', fontsize=14, ha='center', va='center',
         bbox=dict(fc='white', ec='none', pad=0.3))
axI.text(16.7, -5.71, '3p', fontsize=14, ha='center', va='center')
axI.text(17.27, -10.08, '1s', fontsize=14, ha='center', va='center')
for xb, yb in ((-0.10, -6.25), (3.19, -6.25), (19.84, -6.39)):
    axI.text(xb, yb, '≈', fontsize=19, ha='center', va='center', clip_on=False,
             bbox=dict(fc='white', ec='none', pad=0.0))
axI.set_xticks([5, 10, 15])
axI.set_yticks([-5, -11.48])
axI.set_yticklabels(['−5', '−15'])
axI.tick_params(direction='in', length=7, labelsize=14.5, top=False, right=False)
axI.tick_params(axis='x', pad=5)
axI.tick_params(axis='y', pad=14)
ftext(300, 842, '0', fontsize=14.5)
ftext(284, 872, r'$E$, эВ', fontsize=14)
ftext(441, 1038, r'$r_c$, а.е.', fontsize=14)

fig.savefig('out.png', dpi=100)
